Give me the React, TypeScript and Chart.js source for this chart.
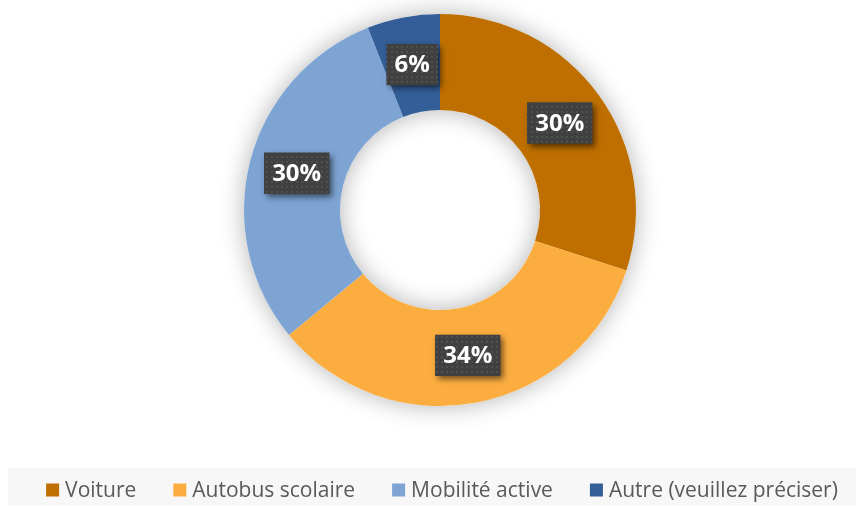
import React, { useEffect, useRef } from "react";
import { Chart, registerables } from "chart.js";

Chart.register(...registerables);

const categories = ["Voiture", "Autobus scolaire", "Mobilité active", "Autre (veuillez préciser)"];
const values = [30, 34, 30, 6];
const colors = ["#BF6F00", "#FBAD40", "#7EA4D4", "#335E98"];

const FONT = "'Open Sans', 'Noto Sans', sans-serif";

function makePattern(ctx: CanvasRenderingContext2D) {
  const c = document.createElement("canvas");
  c.width = 5;
  c.height = 5;
  const p = c.getContext("2d")!;
  p.fillStyle = "#404040";
  p.fillRect(0, 0, 5, 5);
  p.fillStyle = "#505050";
  p.fillRect(1, 1, 2, 2);
  return ctx.createPattern(c, "repeat");
}

const ringShadow = {
  id: "ringShadow",
  beforeDatasetsDraw(chart: any) {
    const arc = chart.getDatasetMeta(0).data[0];
    if (!arc) return;
    const { x, y, outerRadius, innerRadius } = arc.getProps(["x", "y", "outerRadius", "innerRadius"], true);
    const ctx = chart.ctx;
    ctx.save();
    ctx.shadowColor = "rgba(0,0,0,0.3)";
    ctx.shadowBlur = 24;
    ctx.beginPath();
    ctx.arc(x, y, outerRadius, 0, Math.PI * 2);
    ctx.arc(x, y, innerRadius, 0, Math.PI * 2, true);
    ctx.fillStyle = "#ffffff";
    ctx.fill("evenodd");
    ctx.restore();
  },
};

const pctLabels = {
  id: "pctLabels",
  afterDatasetsDraw(chart: any) {
    const ctx = chart.ctx as CanvasRenderingContext2D;
    const meta = chart.getDatasetMeta(0);
    const total = values.reduce((a, b) => a + b, 0);
    const pattern = makePattern(ctx);
    meta.data.forEach((arc: any, i: number) => {
      const pos = arc.tooltipPosition(true);
      const text = Math.round((values[i] / total) * 100) + "%";
      ctx.save();
      ctx.font = `bold 24px ${FONT}`;
      const tw = ctx.measureText(text).width;
      const w = tw + 16;
      const h = 41;
      const bx = pos.x - w / 2;
      const by = pos.y - h / 2;
      ctx.shadowColor = "rgba(0,0,0,0.55)";
      ctx.shadowBlur = 6;
      ctx.shadowOffsetX = 3;
      ctx.shadowOffsetY = 3;
      ctx.fillStyle = "#404040";
      ctx.fillRect(bx, by, w, h);
      ctx.shadowColor = "transparent";
      ctx.fillStyle = pattern || "#404040";
      ctx.fillRect(bx, by, w, h);
      ctx.fillStyle = "#ffffff";
      ctx.textAlign = "center";
      ctx.textBaseline = "middle";
      ctx.fillText(text, pos.x, pos.y + 1);
      ctx.restore();
    });
  },
};

const customLegend = {
  id: "customLegend",
  afterDraw(chart: any) {
    const ctx = chart.ctx as CanvasRenderingContext2D;
    ctx.save();
    ctx.fillStyle = "#F7F7F7";
    ctx.fillRect(8, 468, chart.width - 8, chart.height - 468);
    ctx.font = `21px ${FONT}`;
    const box = 13;
    const gapText = 6;
    const gapItem = 37;
    const widths = categories.map((c) => box + gapText + ctx.measureText(c).width);
    const totalW = widths.reduce((a, b) => a + b, 0) + gapItem * (categories.length - 1);
    let x = 442 - totalW / 2;
    const cy = 490;
    ctx.textBaseline = "middle";
    ctx.textAlign = "left";
    categories.forEach((c, i) => {
      ctx.fillStyle = colors[i];
      ctx.fillRect(x, cy - box / 2, box, box);
      ctx.fillStyle = "#595959";
      ctx.fillText(c, x + box + gapText, cy + 1);
      x += widths[i] + gapItem;
    });
    ctx.restore();
  },
};

export default function App() {
  const ref = useRef<HTMLCanvasElement | null>(null);
  useEffect(() => {
    document.body.style.margin = "0";
    const chart = new Chart(ref.current!, {
      type: "doughnut",
      data: {
        labels: categories,
        datasets: [
          {
            data: values,
            backgroundColor: colors,
            borderWidth: 0,
          },
        ],
      },
      options: {
        animation: false,
        responsive: false,
        cutout: "51%",
        layout: { padding: { top: 14, bottom: 100, left: 24, right: 0 } },
        plugins: {
          legend: { display: false },
          tooltip: { enabled: false },
        },
      },
      plugins: [ringShadow, pctLabels, customLegend],
    });
    return () => chart.destroy();
  }, []);
  return (
    <div style={{ width: 856, height: 506 }}>
      <canvas ref={ref} width={856} height={506} />
    </div>
  );
}
